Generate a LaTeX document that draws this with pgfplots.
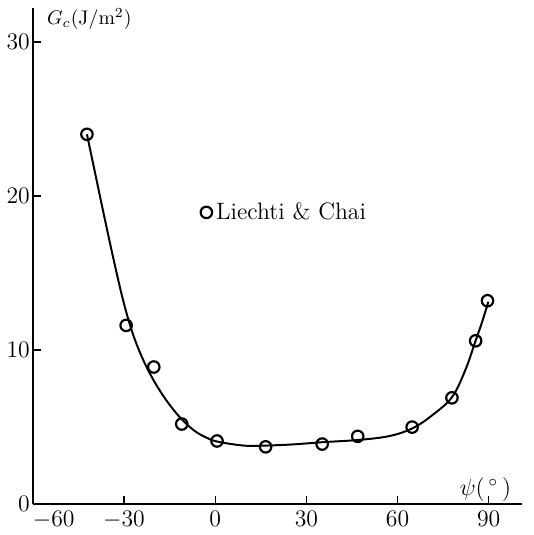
\documentclass[border=0pt]{standalone}
\usepackage{pgfplots}
\pgfplotsset{compat=1.18}
\begin{document}
\begin{tikzpicture}
\begin{axis}[
    scale only axis,
    width=247.5pt, height=251pt,
    xmin=-60, xmax=101, ymin=0, ymax=32.2,
    axis x line=bottom, axis y line=left,
    axis line style={-, line width=0.9pt},
    xtick={-60,-30,0,30,60,90},
    xticklabels={\makebox[0pt][l]{$-60$},$-30$,$0$,$30$,$60$,$90$},
    ytick={0,10,20,30},
    yticklabel style={xshift=2pt},
    tick align=inside,
    major tick length=4pt,
    tick style={line width=0.7pt, black},
    tick label style={font=\large},
    legend style={at={(rel axis cs:0.33,0.588)}, anchor=west, draw=none, fill=none, font=\large},
    legend cell align=left,
    clip=false,
]
\addplot[black, line width=1pt, smooth, tension=0.6, forget plot] coordinates {
    (-42.2,24.0) (-39,21.0) (-36,18.2) (-33,15.5) (-30,13.0)
    (-27,11.0) (-24,9.5) (-21,8.3) (-18,7.3) (-15,6.45)
    (-12,5.72) (-9,5.12) (-6,4.65) (-3,4.33) (0.7,4.06)
    (9.5,3.80) (16.3,3.80) (25.8,3.88) (35.2,4.02)
    (47.3,4.17) (57.3,4.42) (64.9,4.92) (71.4,5.77) (77.9,6.94)
    (82.3,8.7) (85.5,10.5) (87.7,11.75) (89.9,13.14)
};
\addplot[only marks, mark=o, mark size=2.9pt, mark options={line width=1.1pt, black}] coordinates {
    (-42.2,24.0) (-29.3,11.6) (-20.2,8.9) (-11.0,5.2) (0.6,4.1) (16.6,3.72)
    (35.2,3.9) (46.9,4.4) (64.8,5.0) (77.9,6.9) (85.7,10.6) (89.6,13.2)
};
\addlegendentry{Liechti \& Chai}
\node[anchor=west, font=\normalsize] at (rel axis cs:0.015,0.978) {$G_c$(J/m$^2$)};
\node[font=\large] at (rel axis cs:0.925,0.03) {$\psi$(\,$^\circ$\,)};
\path (rel axis cs:1.024,0) (rel axis cs:0,1.016);
\end{axis}
\end{tikzpicture}
\end{document}
